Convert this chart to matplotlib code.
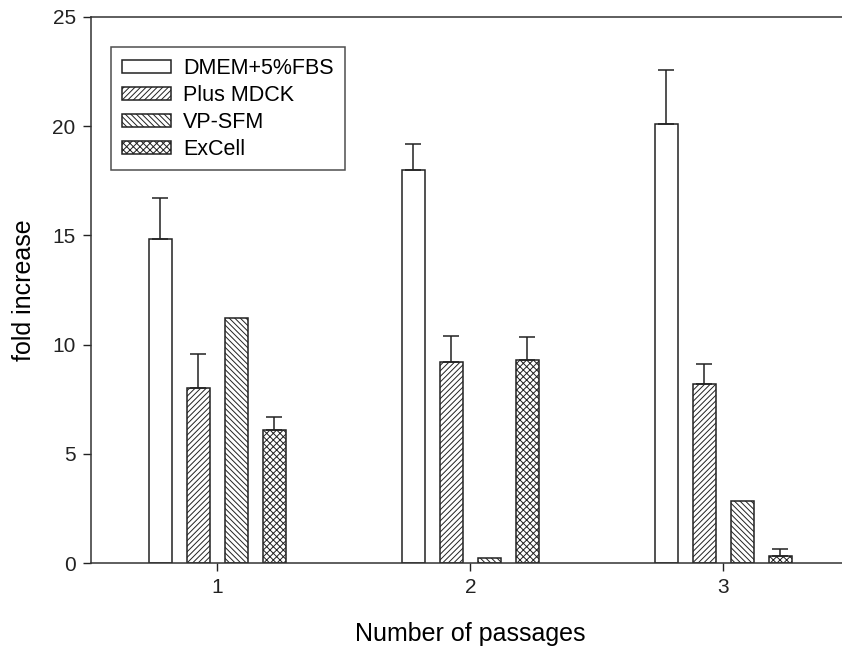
import numpy as np
import matplotlib
matplotlib.use('Agg')
import matplotlib.pyplot as plt

plt.rcParams['font.family'] = ['Liberation Sans', 'DejaVu Sans']
plt.rcParams['hatch.linewidth'] = 0.7

passages = [1, 2, 3]
series = ['DMEM+5%FBS', 'Plus MDCK', 'VP-SFM', 'ExCell']
dmem = [14.85, 18.0, 20.1]
plus_mdck = [8.0, 9.2, 8.2]
vp_sfm = [11.2, 0.25, 2.85]
excell = [6.1, 9.3, 0.33]
dmem_err = [1.85, 1.2, 2.45]
plus_mdck_err = [1.55, 1.2, 0.9]
vp_sfm_err = [0, 0, 0]
excell_err = [0.6, 1.05, 0.32]

values = [dmem, plus_mdck, vp_sfm, excell]
errors = [dmem_err, plus_mdck_err, vp_sfm_err, excell_err]
hatches = ['', '//////', '\\' * 6, 'xxxxx']

fig = plt.figure(figsize=(8.42, 6.51), dpi=100)
ax = fig.add_axes([0.108, 0.135, 0.901, 0.839])

x = np.array(passages, dtype=float)
width = 0.091
step = 0.15
for i, (vals, errs, h, name) in enumerate(zip(values, errors, hatches, series)):
    pos = x + (i - 1.5) * step
    ax.bar(pos, vals, width, facecolor='white', edgecolor='#222222',
           linewidth=1.1, hatch=h, label=name, zorder=2)
    e = np.array(errs)
    mask = e > 0
    ax.errorbar(pos[mask], np.array(vals)[mask],
                yerr=[np.zeros(mask.sum()), e[mask]],
                fmt='none', ecolor='#222222', elinewidth=1.1,
                capsize=5.8, capthick=1.1, zorder=3)

ax.set_xlim(0.5, 3.5)
ax.set_ylim(0, 25)
ax.set_xticks(passages)
ax.set_yticks([0, 5, 10, 15, 20, 25])
ax.tick_params(direction='out', length=6, width=1, labelsize=15,
               colors='#222222', pad=5)
for s in ax.spines.values():
    s.set_linewidth(1.1)
    s.set_color('#333333')

ax.set_xlabel('Number of passages', fontsize=18, labelpad=18)
ax.set_ylabel('fold increase', fontsize=18, labelpad=12)

leg = ax.legend(loc='upper left', bbox_to_anchor=(0.132, 0.928),
                bbox_transform=fig.transFigure, fontsize=15.5, frameon=True,
                fancybox=False, edgecolor='#222222', handlelength=2.3,
                handleheight=0.55, borderpad=0.5, labelspacing=0.28,
                handletextpad=0.55, borderaxespad=0)
leg.get_frame().set_linewidth(1.1)

fig.savefig('out.png', dpi=100)
